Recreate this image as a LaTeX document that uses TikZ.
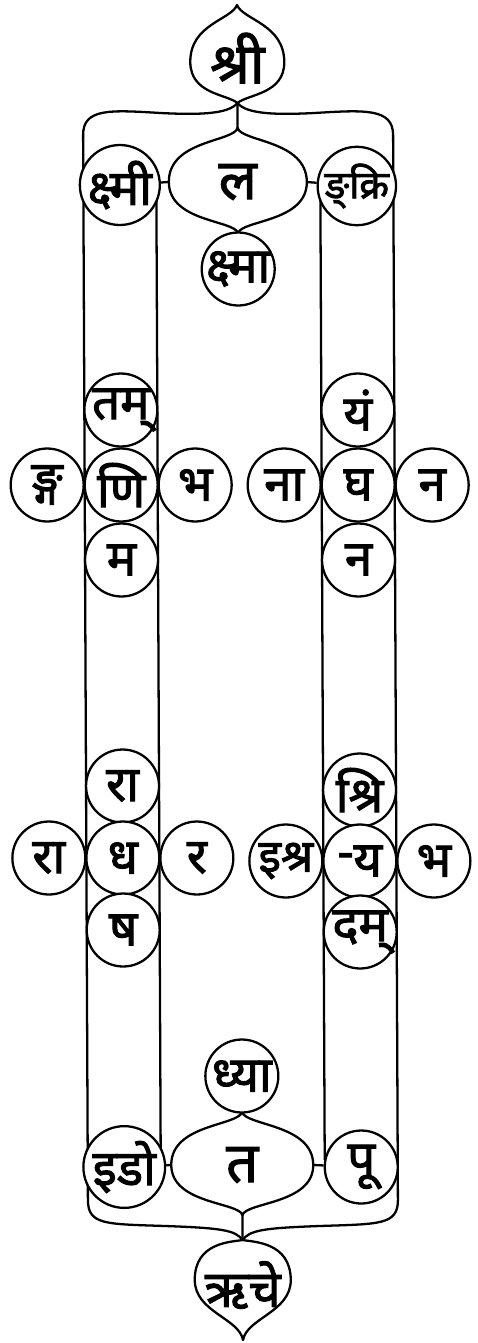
\documentclass[tikz,border=0pt]{standalone}
\usepackage{fontspec}
\newfontfamily\deva[Script=Devanagari,FakeBold=2]{Noto Sans}
\usetikzlibrary{calc}

\begin{document}
\begin{tikzpicture}[x=0.02cm,y=-0.02cm,
  rule/.style={line width=1.3pt, line join=round},
  syl/.style={circle, draw, line width=1.3pt, fill=white, minimum size=1.46cm, inner sep=0pt,
    font=\deva\fontsize{28}{28}\selectfont},
  word/.style={inner sep=0pt, font=\deva\fontsize{32}{32}\selectfont}]
\useasboundingbox (0,0) rectangle (477,1343);
\begin{scope}[xslant=-0.0045]
% top leaf and bracket
\coordinate (shri-top) at (237,5);
\coordinate (shri-foot) at (237,103);
\coordinate (la-top) at (237,128);
\coordinate (la-foot) at (237,233);
\coordinate (la-w) at (168,182);
\coordinate (la-e) at (306,182);
\coordinate (tl) at (82.5,135);
\coordinate (tr) at (392.5,135);
\coordinate (bl) at (82.5,1200);
\coordinate (br) at (392.5,1200);
\coordinate (il-top) at (155.5,190);
\coordinate (il-foot) at (155.5,1160);
\coordinate (ir-top) at (319.5,190);
\coordinate (ir-foot) at (319.5,1160);
\draw[rule] (shri-top) .. controls (231,20) and (190,24) .. (190,62) .. controls (190,94) and (226,94) .. (shri-foot)
  .. controls (248,94) and (284,94) .. (284,62) .. controls (284,24) and (243,20) .. (shri-top) -- cycle;
\draw[rule] (shri-foot) -- (la-top);
\draw[rule] (shri-foot) .. controls (228,114) and (200,115) .. (160,113) .. controls (110,110) and (82.5,108) .. (tl);
\draw[rule] (shri-foot) .. controls (246,114) and (274,115) .. (314,113) .. controls (364,110) and (392.5,108) .. (tr);
\draw[rule] (la-top) .. controls (233,142) and (168,140) .. (la-w) .. controls (168,222) and (233,220) .. (la-foot)
  .. controls (241,220) and (306,222) .. (la-e) .. controls (306,140) and (241,142) .. (la-top) -- cycle;
\draw[rule] (tl) -- (bl);
\draw[rule] (tr) -- (br);
\draw[rule] (il-top) -- (il-foot);
\draw[rule] (ir-top) -- (ir-foot);
\node[word] (shri) at (237,58) {श्री};
\node[word] (la) at (237,182) {ल};
\node[syl] (kshmi) at (119,185) {क्ष्मी};
\node[syl, font=\deva\fontsize{22}{22}\selectfont] (ngkri) at (356,186) {ङ्क्रि};
\node[syl] (kshma) at (237,269) {क्ष्मा};
\draw[rule] (kshmi) -- (la-w);
\draw[rule] (ngkri) -- (la-e);

% bottom leaf and bracket
\coordinate (ta-top) at (237,1112);
\coordinate (ta-foot) at (237,1215);
\coordinate (ta-w) at (166,1165);
\coordinate (ta-e) at (308,1165);
\coordinate (rche-top) at (237,1240);
\coordinate (rche-tip) at (237,1340);
\draw[rule] (ta-top) .. controls (233,1126) and (166,1124) .. (ta-w) .. controls (166,1204) and (233,1202) .. (ta-foot)
  .. controls (241,1202) and (308,1204) .. (ta-e) .. controls (308,1124) and (241,1126) .. (ta-top) -- cycle;
\draw[rule] (ta-foot) -- (rche-top);
\draw[rule] (bl) .. controls (82.5,1225) and (100,1224) .. (160,1226) .. controls (215,1228) and (230,1230) .. (rche-top);
\draw[rule] (br) .. controls (392.5,1225) and (374,1224) .. (314,1226) .. controls (259,1228) and (244,1230) .. (rche-top);
\draw[rule] (rche-top) .. controls (226,1242) and (189,1242) .. (189,1280) .. controls (189,1312) and (233,1318) .. (rche-tip)
  .. controls (241,1318) and (285,1312) .. (285,1280) .. controls (285,1242) and (248,1242) .. (rche-top) -- cycle;
\node[word] (ta) at (237,1165) {त};
\node[word, font=\deva\fontsize{29}{29}\selectfont] (rche) at (237,1285) {ऋचे};
\node[syl] (dhya) at (237,1076) {ध्या};
\node[syl] (ido) at (119,1167) {इडो};
\node[syl] (pu) at (356,1167) {पू};
\draw[rule] (ido) -- (ta-w);
\draw[rule] (pu) -- (ta-e);

% upper crosses
\node[syl] (tam) at (119,410) {तम्};
\node[syl] (ni) at (119,485) {णि};
\node[syl] (ma) at (119,560) {म};
\node[syl] (ngga) at (45,485) {ङ्ग};
\node[syl] (bha) at (193,485) {भ};
\node[syl] (yam) at (356,410) {यं};
\node[syl] (gha) at (356,485) {घ};
\node[syl] (na) at (356,560) {न};
\node[syl] (naa) at (282,485) {ना};
\node[syl] (nb) at (430,485) {न};

% lower crosses
\node[syl] (raa) at (119,786) {रा};
\node[syl] (dha) at (119,858) {ध};
\node[syl] (sha) at (119,930) {ष};
\node[syl] (rab) at (45,858) {रा};
\node[syl] (ra) at (193,858) {र};
\node[syl] (shri2) at (356,790) {श्रि};
\node[syl] (ya) at (356,861) {\raisebox{0.3ex}{-}य};
\node[syl] (dam) at (356,932) {दम्};
\node[syl, font=\deva\fontsize{26}{26}\selectfont] (ishra) at (282,861) {इश्र};
\node[syl] (bhb) at (430,861) {भ};
\end{scope}
\end{tikzpicture}
\end{document}
